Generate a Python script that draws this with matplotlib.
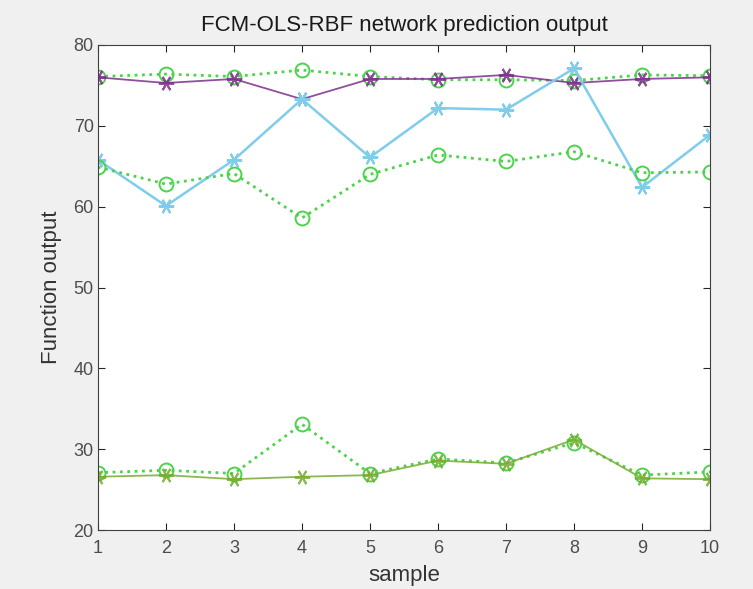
import matplotlib
matplotlib.use("Agg")
import matplotlib.pyplot as plt

samples = [1, 2, 3, 4, 5, 6, 7, 8, 9, 10]
actual_top = [76.0, 75.3, 75.8, 73.3, 75.8, 75.8, 76.3, 75.3, 75.8, 76.0]
pred_top = [76.1, 76.4, 76.1, 76.9, 76.1, 75.7, 75.7, 75.6, 76.3, 76.2]
actual_mid = [65.8, 60.1, 65.8, 73.3, 66.1, 72.2, 72.0, 77.1, 62.4, 68.9]
pred_mid = [64.9, 62.8, 64.1, 58.6, 64.0, 66.4, 65.6, 66.8, 64.2, 64.3]
actual_low = [26.6, 26.8, 26.3, 26.6, 26.8, 28.6, 28.2, 31.2, 26.4, 26.3]
pred_low = [27.1, 27.4, 27.0, 33.1, 27.0, 28.8, 28.3, 30.8, 26.8, 27.2]

plt.rcParams['font.family'] = ['Liberation Sans', 'DejaVu Sans']

fig = plt.figure(figsize=(7.53, 5.89), dpi=100, facecolor='#f0f0f0')
ax = fig.add_axes([0.130, 0.100, 0.813, 0.8236])

purple = '#7E2F8E'
blue = '#7FCDEB'
olive = '#77AC30'
lgreen = '#4CD34C'
ast = (6, 2, 90)

ax.plot(samples, pred_top, linestyle=':', color=lgreen, marker='o', mfc='none', ms=10, lw=2.0, mew=1.4)
ax.plot(samples, actual_top, '-', color=purple, marker=ast, ms=11, lw=1.3, mew=1.4, alpha=0.85)
ax.plot(samples, actual_mid, '-', color=blue, marker=ast, ms=11, lw=1.8, mew=1.5)
ax.plot(samples, pred_mid, linestyle=':', color=lgreen, marker='o', mfc='none', ms=10, lw=2.0, mew=1.4)
ax.plot(samples, pred_low, linestyle=':', color=lgreen, marker='o', mfc='none', ms=10, lw=2.0, mew=1.4)
ax.plot(samples, actual_low, '-', color=olive, marker=ast, ms=11, lw=1.3, mew=1.4, alpha=0.85)

ax.set_xlim(1, 10)
ax.set_ylim(20, 80)
ax.set_xticks(samples)
ax.set_yticks([20, 30, 40, 50, 60, 70, 80])
ax.tick_params(direction='in', top=True, right=True, labelsize=13, length=5,
               color='#262626', labelcolor='#4d4d4d', pad=3)
ax.tick_params(axis='x', pad=7)
for s in ax.spines.values():
    s.set_color('#404040')
ax.set_title('FCM-OLS-RBF network prediction output', fontsize=16, color='#1a1a1a', pad=10)
ax.set_xlabel('sample', fontsize=16, color='#333333', labelpad=6)
ax.set_ylabel('Function output', fontsize=16, color='#333333', labelpad=8)

fig.savefig('out.png', dpi=100, facecolor=fig.get_facecolor())
